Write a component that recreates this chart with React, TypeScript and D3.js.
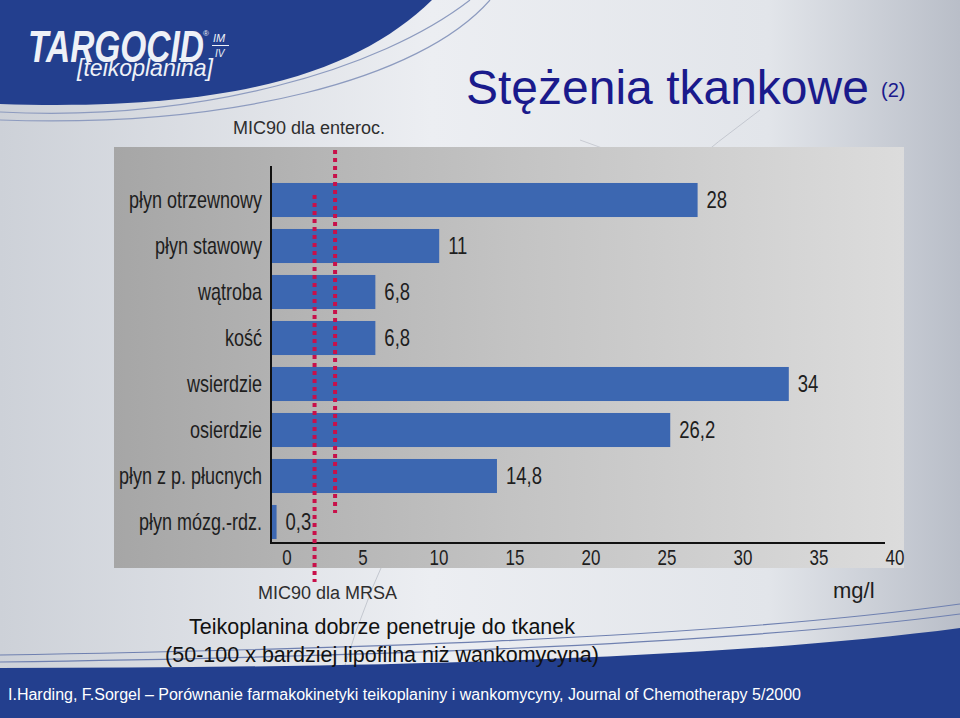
import React from 'react';
import * as d3 from 'd3';

const categories = ['płyn otrzewnowy', 'płyn stawowy', 'wątroba', 'kość', 'wsierdzie', 'osierdzie', 'płyn z p. płucnych', 'płyn mózg.-rdz.'];
const values = [28, 11, 6.8, 6.8, 34, 26.2, 14.8, 0.3];
const valueLabels = ['28', '11', '6,8', '6,8', '34', '26,2', '14,8', '0,3'];
const tickValues = [0, 5, 10, 15, 20, 25, 30, 35, 40];
const micNames = ['MIC90 dla MRSA', 'MIC90 dla enteroc.'];
const micValues = [2.8, 4.15];
const titleText = 'Stężenia tkankowe';
const footnote = 'I.Harding, F.Sorgel – Porównanie farmakokinetyki teikoplaniny i wankomycyny, Journal of Chemotherapy 5/2000';
const noteLines = ['Teikoplanina dobrze penetruje do tkanek', '(50-100 x bardziej lipofilna niż wankomycyna)'];

const W = 960;
const H = 718;
const SANS = "'Liberation Sans', Arial, Helvetica, sans-serif";
const BLUE = '#233f8e';

function Narrow({ x, y, size, sx, anchor, children }: { x: number; y: number; size: number; sx: number; anchor?: string; children: React.ReactNode }) {
  return (
    <text transform={`translate(${x},${y}) scale(${sx},1)`} textAnchor={anchor || 'start'} fill="#1e1e1e" fontFamily={SANS} fontSize={size}>
      {children}
    </text>
  );
}

export default function App() {
  const x = d3.scaleLinear().domain([0, 40]).range([272, 880]);
  const y = d3.scaleBand<string>().domain(categories).range([177, 545]).paddingInner(0.26).paddingOuter(0.13);
  const bw = y.bandwidth();
  const axisY = 543;
  const micTop = [195, 150];
  const micBottom = [582, 513];

  return (
    <svg width={W} height={H} style={{ position: 'absolute', left: 0, top: 0, display: 'block' }}>
      <defs>
        <linearGradient id="bg" x1="0" y1="0" x2="1" y2="0">
          <stop offset="0" stopColor="#cdd1d8" />
          <stop offset="0.45" stopColor="#eceef2" />
          <stop offset="0.8" stopColor="#e2e5ea" />
          <stop offset="1" stopColor="#b9bec8" />
        </linearGradient>
        <linearGradient id="panel" x1="0" y1="0" x2="1" y2="0">
          <stop offset="0" stopColor="#a6a6a6" />
          <stop offset="0.5" stopColor="#c3c3c3" />
          <stop offset="1" stopColor="#dcdcdc" />
        </linearGradient>
      </defs>
      <rect x={0} y={0} width={W} height={H} fill="url(#bg)" />
      {/* faint arcs */}
      <path d="M330,718 Q 420,360 760,110" fill="none" stroke="#c4c8d0" strokeWidth={1} />
      <path d="M580,140 Q 760,200 900,330" fill="none" stroke="#c9ccd4" strokeWidth={1} />
      {/* top blue shape */}
      <path d="M0,0 H432 C 360,70 240,112 0,104 Z" fill={BLUE} />
      <path d="M0,112 C 200,122 380,70 470,0" fill="none" stroke="#8d9bbf" strokeWidth={1.2} />
      <path d="M0,120 C 230,128 420,80 490,0" fill="none" stroke="#8d9bbf" strokeWidth={1.2} />
      {/* bottom blue band */}
      <path d="M0,655 C 300,650 700,640 960,604" fill="none" stroke="#6f80b0" strokeWidth={1.2} />
      <path d="M0,662 C 300,658 700,648 960,614" fill="none" stroke="#6f80b0" strokeWidth={1.2} />
      <path d="M0,668 C 350,668 720,660 960,628 V718 H0 Z" fill={BLUE} />

      {/* logo */}
      <text x={28} y={62} fill="#eef1f7" fontFamily={SANS} fontWeight="bold" fontStyle="italic" fontSize={44} textLength={176} lengthAdjust="spacingAndGlyphs">TARGOCID</text>
      <text x={203} y={36} fill="#eef1f7" fontFamily={SANS} fontSize={8}>®</text>
      <text x={213} y={42} fill="#eef1f7" fontFamily={SANS} fontStyle="italic" fontSize={11}>IM</text>
      <line x1={212} y1={45.5} x2={229} y2={45.5} stroke="#eef1f7" strokeWidth={1} />
      <text x={215} y={57} fill="#eef1f7" fontFamily={SANS} fontStyle="italic" fontSize={10}>IV</text>
      <text x={77} y={76} fill="#eef1f7" fontFamily={SANS} fontStyle="italic" fontSize={24} textLength={136} lengthAdjust="spacingAndGlyphs">[teikoplanina]</text>

      {/* title */}
      <text x={466} y={104} fill="#1a1a8c" fontFamily={SANS} fontSize={48}>{titleText}</text>
      <text x={881} y={97} fill="#1a1a8c" fontFamily={SANS} fontSize={20}>(2)</text>

      {/* panel */}
      <rect x={114} y={147} width={790} height={421} fill="url(#panel)" />

      {/* bars */}
      {categories.map((c, i) => {
        const cy = (y(c) as number) + bw / 2;
        return (
          <g key={c}>
            <rect x={x(0)} y={y(c)} width={x(values[i]) - x(0)} height={bw} fill="#3c67b1" />
            <Narrow x={x(values[i]) + 9} y={cy + 7.5} size={24} sx={0.77}>{valueLabels[i]}</Narrow>
            <Narrow x={262} y={cy + 7.5} size={24} sx={0.75} anchor="end">{c}</Narrow>
          </g>
        );
      })}

      {/* axes */}
      <line x1={271} y1={166} x2={271} y2={axisY + 1} stroke="#111" strokeWidth={2} />
      <line x1={270} y1={axisY} x2={x(40) + 5} y2={axisY} stroke="#111" strokeWidth={2} />
      {tickValues.map((t) => (
        <Narrow key={t} x={x(t) + 15} y={565} size={22} sx={0.77} anchor="middle">{t}</Narrow>
      ))}

      {/* MIC lines */}
      {micValues.map((m, i) => (
        <line key={i} x1={x(m)} y1={micTop[i]} x2={x(m)} y2={micBottom[i]} stroke="#c8104a" strokeWidth={4} strokeDasharray="4 4" />
      ))}
      <text x={258} y={599} fill="#2e2e2e" fontFamily={SANS} fontSize={18}>{micNames[0]}</text>
      <text x={233} y={134} fill="#2e2e2e" fontFamily={SANS} fontSize={18}>{micNames[1]}</text>
      <text x={833} y={598} fill="#1e1e1e" fontFamily={SANS} fontSize={22}>mg/l</text>

      {/* notes */}
      {noteLines.map((l, i) => (
        <text key={i} x={382} y={634 + i * 28} textAnchor="middle" fill="#111" fontFamily={SANS} fontSize={21.5}>{l}</text>
      ))}
      <text x={8} y={700} fill="#ffffff" fontFamily={SANS} fontSize={16}>{footnote}</text>
    </svg>
  );
}
